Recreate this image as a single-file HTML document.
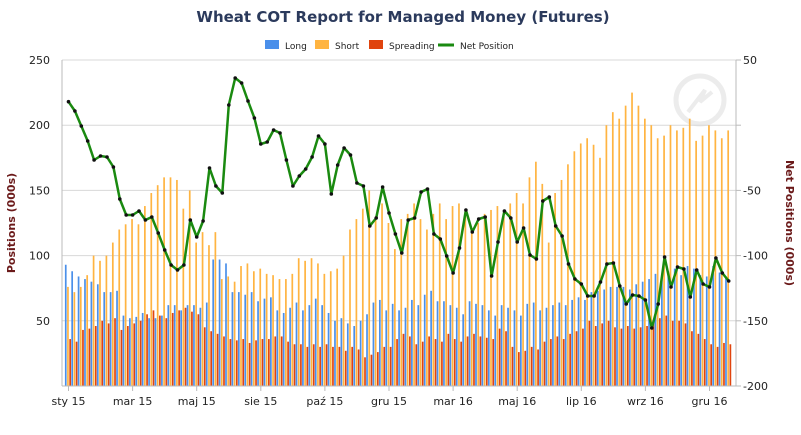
<!DOCTYPE html>
<html><head><meta charset="utf-8"><style>
html,body{margin:0;padding:0;background:#fff;width:801px;height:435px;overflow:hidden}
text{font-family:"DejaVu Sans","Liberation Sans",sans-serif}
</style></head><body>
<svg id="s" width="801" height="435" xmlns="http://www.w3.org/2000/svg">
<rect width="801" height="435" fill="#fff"/>
<text x="403" y="22" text-anchor="middle" font-size="15" font-weight="bold" fill="#2b3a5c">Wheat COT Report for Managed Money (Futures)</text>
<g font-size="9" fill="#222">
<rect x="265" y="40" width="14" height="9" fill="#4a8fea"/><text x="285" y="49">Long</text>
<rect x="315" y="40" width="14" height="9" fill="#ffb441"/><text x="335" y="49">Short</text>
<rect x="369" y="40" width="14" height="9" fill="#e0440e"/><text x="389" y="49">Spreading</text>
<line x1="438" y1="45" x2="454" y2="45" stroke="#1a8a10" stroke-width="3"/><text x="460" y="49">Net Position</text>
</g>
<circle cx="700" cy="100" r="24" fill="none" stroke="#ececec" stroke-width="5"/>
<path d="M688 112 L705 90 L700 102 L712 92" fill="none" stroke="#ececec" stroke-width="4"/>
<g id="grid" stroke="#d8d8d8" stroke-width="1"></g>
<g id="bars"></g>
<g id="axes"></g>
<g id="net"></g>
<text transform="translate(15,223) rotate(-90)" text-anchor="middle" font-size="11" font-weight="bold" fill="#6b1a1a">Positions (000s)</text>
<text transform="translate(786,223) rotate(90)" text-anchor="middle" font-size="11" font-weight="bold" fill="#6b1a1a">Net Positions (000s)</text>
</svg>
<script>
var NS="http://www.w3.org/2000/svg";
function el(p,t,a){var e=document.createElementNS(NS,t);for(var k in a)e.setAttribute(k,a[k]);document.getElementById(p).appendChild(e);return e;}
var L=62,R=736,B=386;
var sc=1.304;
[50,100,150,200,250].forEach(function(v){var y=B-v*sc;el("grid","line",{x1:L,x2:R,y1:y,y2:y});});
el("axes","line",{x1:L,x2:L,y1:60,y2:B,stroke:"#bbb"});
el("axes","line",{x1:R,x2:R,y1:60,y2:B,stroke:"#bbb"});
el("axes","line",{x1:L,x2:R,y1:B,y2:B,stroke:"#bbb"});
[0,50,100,150,200,250].forEach(function(v){var y=B-v*sc;if(v>0){var t=el("axes","text",{x:50,y:y+4,"text-anchor":"end","font-size":"11",fill:"#222"});t.textContent=v;}});
[50,0,-50,-100,-150,-200].forEach(function(v,i){var y=60+i*65.2;el("axes","line",{x1:R,x2:R+5,y1:y,y2:y,stroke:"#bbb"});if(v!==0){var t=el("axes","text",{x:743,y:y+4,"font-size":"11",fill:"#222"});t.textContent=v;}});
var labs=["sty 15","mar 15","maj 15","sie 15","paź 15","gru 15","mar 16","maj 16","lip 16","wrz 16","gru 16"];
labs.forEach(function(s,i){var x=68.5+i*64.1;el("axes","line",{x1:x,x2:x,y1:B,y2:B+5,stroke:"#bbb"});var t=el("axes","text",{x:x,y:405,"text-anchor":"middle","font-size":"11",fill:"#222"});t.textContent=s;});
var shortV=[76,72,76,85,100,96,100,110,120,124,128,124,138,148,154,160,160,158,136,150,110,118,108,118,82,84,80,92,94,88,90,86,85,82,82,86,98,96,98,94,86,88,90,100,120,128,136,150,130,140,125,105,128,132,140,128,120,132,140,128,138,140,130,120,125,132,135,138,130,140,148,140,160,172,155,110,148,158,170,180,186,190,185,175,200,210,205,215,225,215,205,200,190,192,200,196,198,205,188,192,200,196,190,196];
var longV=[93,88,84,82,80,78,72,72,73,54,52,53,56,52,52,54,62,62,58,62,62,60,64,97,97,94,72,72,70,72,65,67,68,58,56,60,64,58,62,67,62,56,50,52,48,46,50,55,64,66,58,63,58,60,66,62,70,73,65,65,62,60,55,65,63,62,58,54,62,60,58,54,63,64,58,60,62,64,62,66,68,66,72,73,74,76,76,76,74,78,80,82,86,86,88,90,85,92,90,85,84,92,87,84];
var sprV=[36,34,43,44,46,50,48,52,43,46,48,50,55,58,54,52,56,58,60,57,55,45,42,40,38,36,35,36,33,35,36,36,38,38,34,32,32,30,32,30,32,30,30,27,30,28,22,24,26,30,30,36,40,38,32,34,38,36,34,40,36,34,38,40,38,37,36,44,42,30,26,27,30,28,34,36,38,36,40,42,44,50,46,48,50,45,44,46,44,45,46,48,52,54,50,50,48,42,40,36,32,30,33,32];
var net=[101.7,111,126,141,160,156,157,167,199,215,215,211,220,217,233,250,265,270,265,220,237,221,168,186,193,105,78,83,101,118,144,142,130,133,160,186,176,169,157,136,144,194,165,148,155,183,186,226,218,187,213,234,253,220,218,192,189,234,239,256,273,248,210,232,219,217,276,242,211,218,242,228,255,259,201,197,226,236,264,279,284,296,296,282,264,263,286,304,295,296,300,328,304,257,287,267,269,297,270,284,287,258,273,281];
var pts=[];
for(var i=0;i<104;i++){var cx=68.5+i*6.41;
 [[longV,-3.6,"#4a8fea"],[shortV,-1.4,"#ffb441"],[sprV,0.8,"#e0440e"]].forEach(function(a){var h=a[0][i]*sc;el("bars","rect",{x:cx+a[1],y:B-h,width:1.7,height:h,fill:a[2]});});
 pts.push(cx.toFixed(1)+","+net[i]);}
el("net","polyline",{points:pts.join(" "),fill:"none",stroke:"#1a8a10","stroke-width":"2.5","stroke-linejoin":"round"});
pts.forEach(function(p){var a=p.split(",");el("net","circle",{cx:a[0],cy:a[1],r:1.8,fill:"#111"});});
</script>
</body></html>
